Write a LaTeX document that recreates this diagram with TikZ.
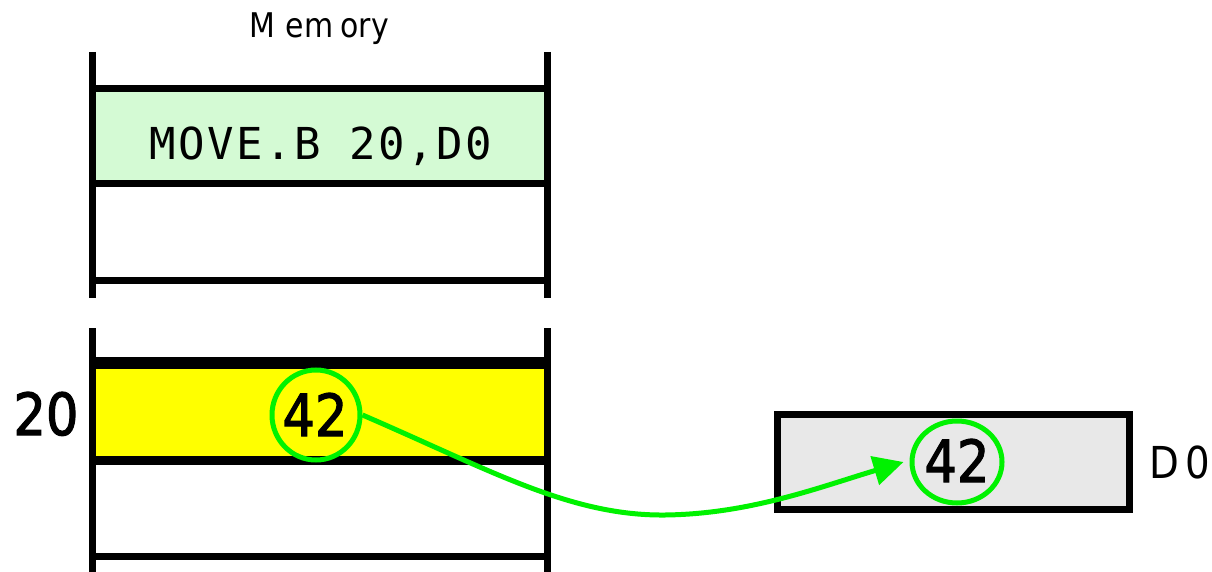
\documentclass[tikz,border=0pt]{standalone}
\usepackage{fontspec}
\setmainfont{DejaVu Sans}
\newfontfamily\narrowfont[FakeStretch=0.88]{DejaVu Sans}
\newfontfamily\digitfont[FakeStretch=0.88,FakeBold=2]{DejaVu Sans}
\newfontfamily\monofont[LetterSpace=5.5]{DejaVu Sans Mono}
\usetikzlibrary{shapes.geometric,arrows.meta}

\definecolor{instrgreen}{RGB}{212,250,212}
\definecolor{hilite}{RGB}{255,255,0}
\definecolor{regfill}{RGB}{232,232,232}
\definecolor{flow}{RGB}{0,242,0}

\tikzset{
  wall/.style={line width=7pt},
  cellbox/.style={draw=black, line width=7pt, minimum width=455pt,
    inner sep=0pt, outer sep=0pt, rectangle},
  valring/.style={draw=flow, line width=5pt, ellipse, inner sep=0pt},
  valtext/.style={font=\digitfont\fontsize{58}{60}\selectfont, inner sep=0pt},
  regbox/.style={draw=black, line width=7pt, fill=regfill, rectangle,
    minimum width=352pt, minimum height=95pt, inner sep=0pt},
}

\begin{document}
\begin{tikzpicture}[x=1pt,y=-1pt]
  \useasboundingbox (0,0) rectangle (1212,572);

  % caption over the memory strip
  \node[font=\narrowfont\fontsize{34}{36}\selectfont, anchor=base] (memlabel) at (319,38)
    {M\kern11pt em\kern7pt ory};

  % upper part of memory: instruction word and an empty word
  \node[cellbox, fill=instrgreen, minimum height=95pt] (instr) at (319.5,136.5) {};
  \node[font=\monofont\fontsize{44}{46}\selectfont, anchor=base] (instrtext) at (321,160)
    {MOVE.B 20,D0};
  \node[cellbox, minimum height=96pt] (next) at (319.5,232) {};
  \coordinate (uwl1) at (92,52);   \coordinate (uwl2) at (92,298);
  \coordinate (uwr1) at (547,52);  \coordinate (uwr2) at (547,298);
  \draw[wall] (uwl1) -- (uwl2);
  \draw[wall] (uwr1) -- (uwr2);

  % lower part of memory: the byte at address 20 and an empty word
  \node[cellbox, fill=hilite, minimum height=97pt] (byte) at (319.5,411.5) {};
  \draw[line width=12pt] (byte.north west) -- (byte.north east);
  \draw[line width=9pt] (byte.south west) -- (byte.south east);
  \node[cellbox, minimum height=96pt] (after) at (319.5,508) {};
  \coordinate (lwl1) at (92,328);  \coordinate (lwl2) at (92,572);
  \coordinate (lwr1) at (547,328); \coordinate (lwr2) at (547,572);
  \draw[wall] (lwl1) -- (lwl2);
  \draw[wall] (lwr1) -- (lwr2);

  % address label
  \node[valtext, anchor=base] (addr) at (46,435) {20};

  % value in memory
  \node[valring, minimum width=88pt, minimum height=90pt] (src) at (316,415) {};
  \node[valtext, anchor=base] (srctext) at (315,436) {42};

  % data register D0
  \node[regbox] (reg) at (953,461.5) {};
  \node[valring, minimum width=90pt, minimum height=82pt] (dst) at (957,462) {};
  \node[valtext, anchor=base] (dsttext) at (957,482) {42};
  \node[font=\narrowfont\fontsize{44}{46}\selectfont, anchor=base] (reglabel) at (1180,478)
    {D\kern6pt 0};

  % transfer of the byte into the register
  \coordinate (tip) at ([xshift=-6pt]dst.west);
  \draw[flow, line width=5pt, -{Triangle[length=30pt,width=29pt]}]
    (src.east) .. controls (490,470) and (570,516) .. (665,515)
    .. controls (750,514) and (820,487) .. (tip);
\end{tikzpicture}
\end{document}
